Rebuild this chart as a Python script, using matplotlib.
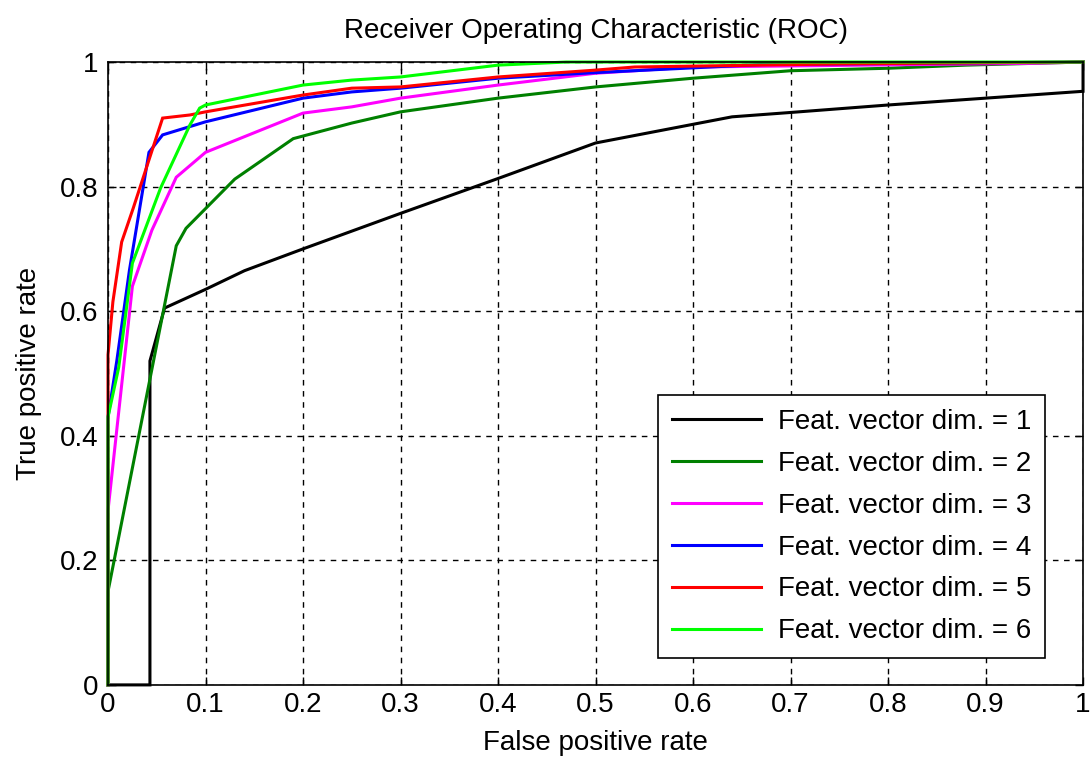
import matplotlib
matplotlib.use("Agg")
import matplotlib.pyplot as plt
from matplotlib.ticker import FuncFormatter

plt.rcParams['font.family'] = ['Liberation Sans', 'DejaVu Sans']

labels = ["Feat. vector dim. = 1", "Feat. vector dim. = 2", "Feat. vector dim. = 3",
          "Feat. vector dim. = 4", "Feat. vector dim. = 5", "Feat. vector dim. = 6"]
colors = ["#000000", "#008000", "#ff00ff", "#0000ff", "#ff0000", "#00ff00"]

fpr1 = [0, 0.043, 0.043, 0.058, 0.1, 0.14, 0.2, 0.3, 0.4, 0.5, 0.6, 0.64, 0.7, 0.8, 0.9, 1.0, 1.0]
tpr1 = [0, 0, 0.52, 0.605, 0.635, 0.665, 0.70, 0.757, 0.813, 0.87, 0.90, 0.912, 0.919, 0.931, 0.942, 0.953, 1.0]

fpr2 = [0, 0, 0.07, 0.08, 0.13, 0.19, 0.25, 0.3, 0.4, 0.5, 0.6, 0.7, 0.8, 0.88, 1.0]
tpr2 = [0, 0.15, 0.705, 0.733, 0.812, 0.877, 0.902, 0.92, 0.942, 0.96, 0.974, 0.986, 0.99, 0.995, 1.0]

fpr3 = [0, 0, 0.025, 0.045, 0.07, 0.1, 0.2, 0.25, 0.3, 0.4, 0.5, 0.6, 0.95, 1.0]
tpr3 = [0, 0.28, 0.64, 0.73, 0.815, 0.855, 0.918, 0.928, 0.942, 0.963, 0.982, 0.992, 0.998, 1.0]

fpr4 = [0, 0, 0.009, 0.022, 0.042, 0.056, 0.1, 0.2, 0.25, 0.3, 0.4, 0.5, 0.67, 1.0]
tpr4 = [0, 0.43, 0.52, 0.666, 0.855, 0.883, 0.904, 0.942, 0.952, 0.958, 0.974, 0.983, 0.996, 1.0]

fpr5 = [0, 0, 0.005, 0.014, 0.026, 0.056, 0.084, 0.1, 0.2, 0.25, 0.3, 0.4, 0.5, 0.54, 0.75, 1.0]
tpr5 = [0, 0.53, 0.615, 0.711, 0.766, 0.91, 0.915, 0.92, 0.947, 0.958, 0.96, 0.976, 0.987, 0.992, 0.997, 1.0]

fpr6 = [0, 0, 0.011, 0.025, 0.054, 0.084, 0.094, 0.1, 0.2, 0.25, 0.3, 0.4, 0.47, 1.0]
tpr6 = [0, 0.43, 0.51, 0.677, 0.798, 0.899, 0.926, 0.931, 0.963, 0.971, 0.976, 0.995, 1.0, 1.0]

fprs = [fpr1, fpr2, fpr3, fpr4, fpr5, fpr6]
tprs = [tpr1, tpr2, tpr3, tpr4, tpr5, tpr6]

xticks = [0, 0.1, 0.2, 0.3, 0.4, 0.5, 0.6, 0.7, 0.8, 0.9, 1]
yticks = [0, 0.2, 0.4, 0.6, 0.8, 1]

fig = plt.figure(figsize=(10.91, 7.61), dpi=100)
ax = fig.add_axes([0.099, 0.1, 0.8937, 0.8185])

for fx, ty, c, lab in zip(fprs, tprs, colors, labels):
    ax.plot(fx, ty, color=c, lw=2.2, label=lab, solid_joinstyle='miter', clip_on=False)

ax.set_xlim(0, 1)
ax.set_ylim(0, 1)
ax.set_xticks(xticks)
ax.set_yticks(yticks)
fmt = FuncFormatter(lambda v, p: ('%g' % v))
ax.xaxis.set_major_formatter(fmt)
ax.yaxis.set_major_formatter(fmt)
ax.tick_params(direction='in', top=True, right=True, length=6, width=1, labelsize=20)
ax.tick_params(axis='y', pad=7)
ax.tick_params(axis='x', pad=5)
ax.grid(True, color='black', linestyle=(0, (4, 4)), linewidth=1)
for s in ax.spines.values():
    s.set_linewidth(1.2)
    s.set_color('black')

ax.set_title("Receiver Operating Characteristic (ROC)", fontsize=20, pad=17)
ax.set_xlabel("False positive rate", fontsize=20, labelpad=9)
ax.set_ylabel("True positive rate", fontsize=20, labelpad=13)

leg = ax.legend(loc='lower right', bbox_to_anchor=(0.961, 0.043), borderaxespad=0,
                fontsize=20, frameon=True, fancybox=False, edgecolor='black',
                handlelength=3.2, handletextpad=0.6, labelspacing=0.57,
                borderpad=0.5)
leg.get_frame().set_linewidth(1.2)
leg.get_frame().set_alpha(1)

fig.savefig("out.png", dpi=100)
